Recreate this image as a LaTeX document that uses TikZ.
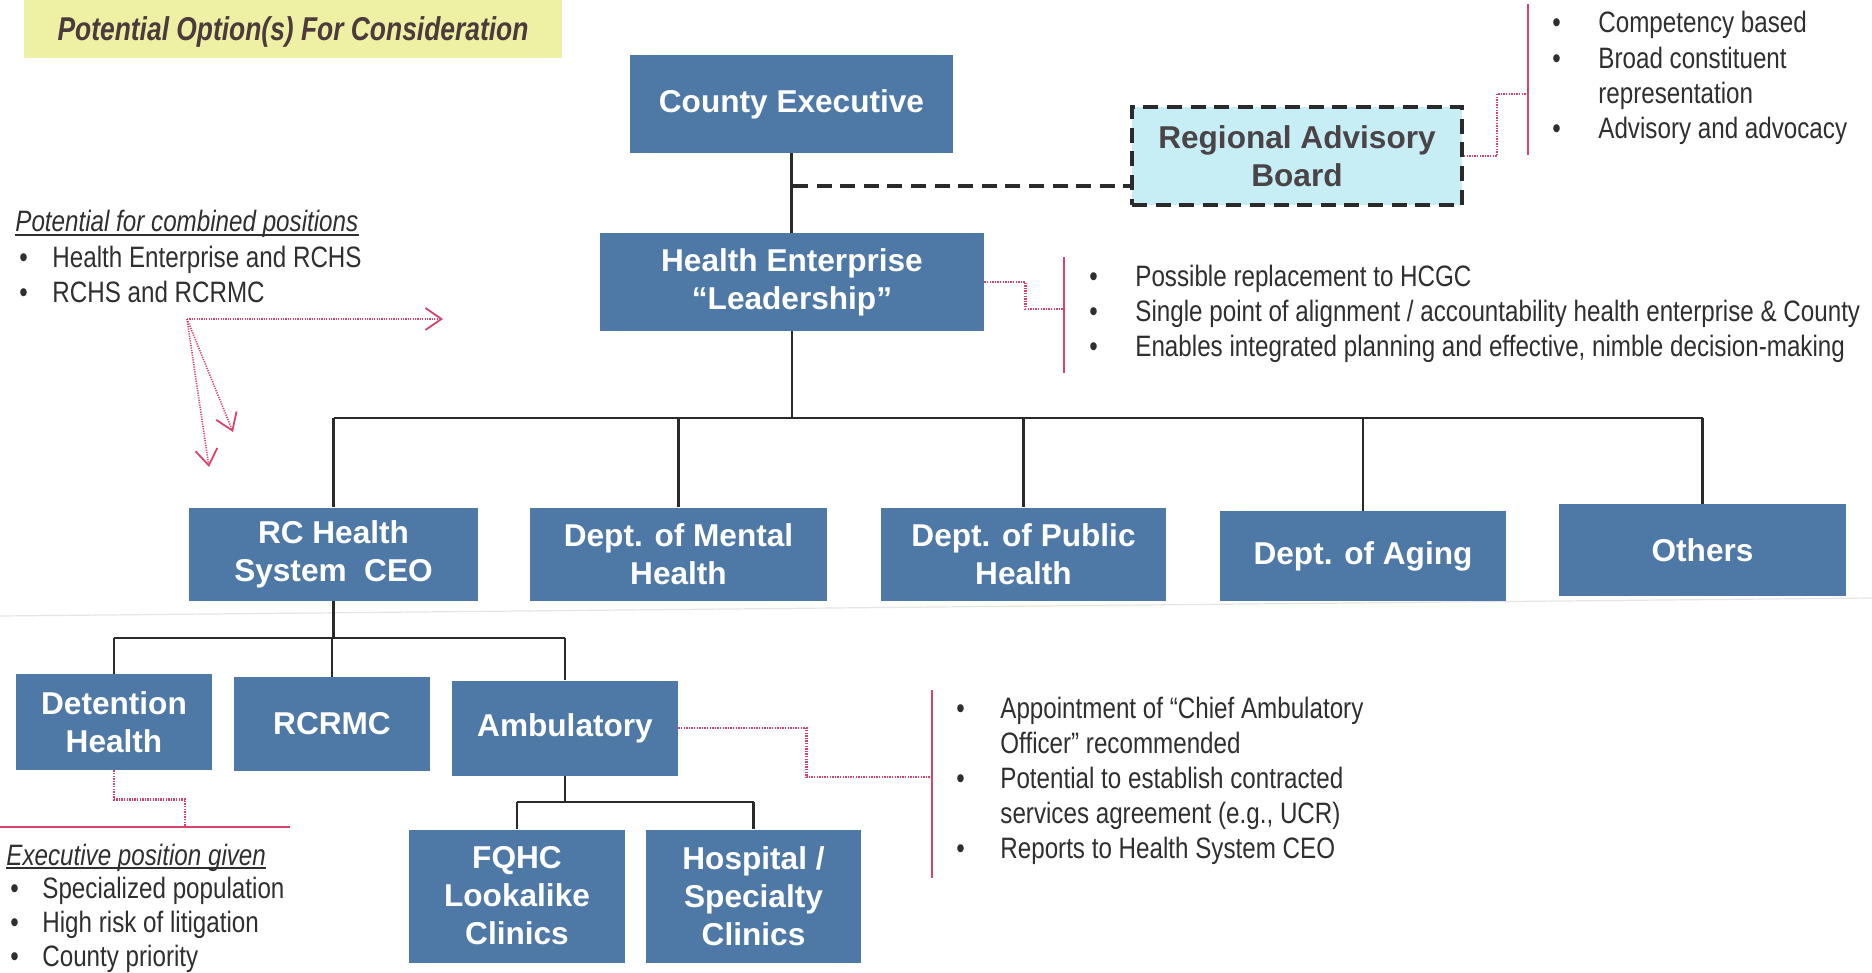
\documentclass[tikz,border=0pt]{standalone}
\usepackage{fontspec}
\setmainfont{Liberation Sans}
\newfontfamily\narrowfont[FakeStretch=0.82]{Liberation Sans}
\newfontfamily\bannerfont[FakeStretch=0.8]{Liberation Sans}
\usetikzlibrary{arrows.meta}

\definecolor{boxblue}{HTML}{4E79A6}
\definecolor{notered}{HTML}{D8436C}
\definecolor{notetext}{HTML}{2F2F2F}
\definecolor{bannerfill}{HTML}{EEF1A4}
\definecolor{bannertext}{HTML}{4B3B3D}
\definecolor{advisoryfill}{HTML}{C6EEF4}
\definecolor{advisorytext}{HTML}{4A4446}
\definecolor{linegray}{HTML}{2A2A2A}

\tikzset{
  orgbox/.style={rectangle, fill=boxblue, text=white, align=center, inner sep=0pt,
    font=\bfseries\fontsize{15.8}{19}\selectfont},
  orgline/.style={draw=linegray, line width=1.35pt},
  advline/.style={draw=linegray, line width=2pt, dash pattern=on 7.5pt off 4.3pt},
  notelink/.style={draw=notered, line width=1.2pt, dash pattern=on 0.7pt off 0.6pt},
  notebar/.style={draw=notered, line width=1pt},
  notearrow/.style={draw=notered, line width=0.8pt, dash pattern=on 0.6pt off 0.6pt,
    -{Straight Barb[length=8pt,width=11pt,line width=0.9pt]}},
  notes/.style={inner sep=0pt, text=notetext, anchor=base west,
    font=\narrowfont\fontsize{14.75}{17.6}\selectfont},
  underbar/.style={draw=notetext, line width=0.9pt},
}

\begin{document}
\begin{tikzpicture}[x=0.5pt,y=-0.5pt]
\useasboundingbox (0,0) rectangle (1872,973);
\fill[white] (0,0) rectangle (1872,973);

% faint crease across the sheet
\draw[black!10, line width=0.6pt] (0,616) -- (1872,598);

% title banner
\fill[bannerfill] (24,0) rectangle (562,58);
\node[inner sep=0pt, text=bannertext,
      font=\bannerfont\bfseries\itshape\fontsize{16.5}{20}\selectfont]
      (banner) at (293,32) {Potential Option(s) For Consideration};

% top of the chart
\node[orgbox, minimum width=161.5pt, minimum height=49pt] (ce) at (791.5,104) {County Executive};
\node[orgbox, minimum width=192pt, minimum height=48.5pt] (he) at (792,282) {Health Enterprise\\“Leadership”};
\node[rectangle, fill=advisoryfill, draw=linegray, line width=2pt, dash pattern=on 7.5pt off 4.3pt,
      minimum width=165pt, minimum height=49pt, inner sep=0pt, align=center, text=advisorytext,
      font=\bfseries\fontsize{15.8}{19}\selectfont]
      (rab) at (1297,156) {Regional Advisory\\Board};

% second level
\node[orgbox, minimum width=144.5pt, minimum height=46.5pt] (rc) at (333.5,554) {RC Health\\System~~CEO};
\node[orgbox, minimum width=148.5pt, minimum height=46.5pt] (mh) at (678.5,554) {Dept. of Mental\\Health};
\node[orgbox, minimum width=142.5pt, minimum height=46.5pt] (ph) at (1023.5,554) {Dept. of Public\\Health};
\node[orgbox, minimum width=143pt, minimum height=45pt] (ag) at (1363,556) {Dept. of Aging};
\node[orgbox, minimum width=143.5pt, minimum height=46pt] (ot) at (1702.5,550) {Others};

% health system level
\node[orgbox, minimum width=98pt, minimum height=48pt] (dh) at (114,722) {Detention\\Health};
\node[orgbox, minimum width=98pt, minimum height=47pt] (rm) at (332,724) {RCRMC};
\node[orgbox, minimum width=113pt, minimum height=47.5pt] (am) at (565,728) {Ambulatory};

% ambulatory level
\node[orgbox, minimum width=108pt, minimum height=66.5pt] (fq) at (517,896) {FQHC\\Lookalike\\Clinics};
\node[orgbox, minimum width=107.5pt, minimum height=66.5pt] (hs) at (753.5,896) {Hospital /\\Specialty\\Clinics};

% reporting lines
\draw[orgline] (ce.south) -- (ce.south |- he.north);
\coordinate (advjoin) at (793,186);
\draw[advline] (advjoin) -- (advjoin -| rab.west);

\coordinate (bustop) at (792,418);
\draw[orgline] (he.south) -- (bustop);
\draw[orgline] (rc.north |- bustop) -- (ot.north |- bustop);
\foreach \n in {rc,mh,ph,ag,ot} \draw[orgline] (\n.north |- bustop) -- (\n.north);

\coordinate (busrc) at (333.5,638);
\draw[orgline] (rc.south) -- (busrc);
\draw[orgline] (dh.north |- busrc) -- (am.north |- busrc);
\foreach \n in {dh,rm,am} \draw[orgline] (\n.north |- busrc) -- (\n.north);

\coordinate (busam) at (565,802);
\draw[orgline] (am.south) -- (busam);
\draw[orgline] (fq.north |- busam) -- (hs.north |- busam);
\foreach \n in {fq,hs} \draw[orgline] (\n.north |- busam) -- (\n.north);

% note brackets and their links
\coordinate (rabbartop) at (1528,4);
\coordinate (rabbarbot) at (1528,155);
\coordinate (rabbar) at (1528,94);
\draw[notebar] (rabbartop) -- (rabbarbot);
\draw[notelink] (rab.east) -- ++(33,0) |- (rabbar);

\coordinate (hebartop) at (1064,257);
\coordinate (hebarbot) at (1064,373);
\coordinate (hebar) at (1064,309);
\draw[notebar] (hebartop) -- (hebarbot);
\draw[notelink] (he.east) -- ++(41,0) |- (hebar);

\coordinate (ambartop) at (932,690);
\coordinate (ambarbot) at (932,878);
\coordinate (ambar) at (932,777);
\draw[notebar] (ambartop) -- (ambarbot);
\draw[notelink] (am.east) -- ++(128,0) |- (ambar);

\coordinate (dhrulel) at (0,827);
\coordinate (dhruler) at (290,827);
\coordinate (dhline) at (185,827);
\draw[notered, line width=1.3pt] (dhrulel) -- (dhruler);
\draw[notelink] (dh.south) -- ++(0,29) -| (dhline);

% hand-drawn pointers
\coordinate (arrsrc) at (187,319);
\coordinate (arrright) at (443,319);
\coordinate (arrdowna) at (209,467);
\coordinate (arrdownb) at (233,432);
\draw[notearrow] (arrsrc) -- (arrright);
\draw[notearrow] (arrsrc) -- (arrdowna);
\draw[notearrow] (arrsrc) -- (arrdownb);

% note texts
\node[notes] (rabnotes) at (1552,33) {\begin{tabular}[t]{@{}p{23pt}@{}l@{}}
\textbullet & Competency based\\
\textbullet & Broad constituent\\
 & representation\\
\textbullet & Advisory and advocacy
\end{tabular}};

\node[notes] (henotes) at (1089,286) {\begin{tabular}[t]{@{}p{23pt}@{}l@{}}
\textbullet & Possible replacement to HCGC\\
\textbullet & Single point of alignment / accountability health enterprise \& County\\
\textbullet & Enables integrated planning and effective, nimble decision-making
\end{tabular}};

\node[notes] (amnotes) at (956,718) {\begin{tabular}[t]{@{}p{22pt}@{}l@{}}
\textbullet & Appointment of “Chief Ambulatory\\
 & Officer” recommended\\
\textbullet & Potential to establish contracted\\
 & services agreement (e.g., UCR)\\
\textbullet & Reports to Health System CEO
\end{tabular}};

\node[notes, font=\narrowfont\itshape\fontsize{14.75}{17.6}\selectfont] (combhead) at (15,232) {Potential for combined positions};
\draw[underbar] ([yshift=-1.6pt]combhead.base west) -- ([yshift=-1.6pt]combhead.base east);
\node[notes] (combnotes) at (19,267) {\begin{tabular}[t]{@{}p{16.5pt}@{}l@{}}
\textbullet & Health Enterprise and RCHS\\
\textbullet & RCHS and RCRMC
\end{tabular}};

\node[notes, font=\narrowfont\itshape\fontsize{14.75}{17.6}\selectfont] (exechead) at (6,865) {Executive position given};
\draw[underbar] ([yshift=-1.6pt]exechead.base west) -- ([yshift=-1.6pt]exechead.base east);
\node[notes, font=\narrowfont\fontsize{14.75}{17.2}\selectfont] (execnotes) at (10,898) {\begin{tabular}[t]{@{}p{16pt}@{}l@{}}
\textbullet & Specialized population\\
\textbullet & High risk of litigation\\
\textbullet & County priority
\end{tabular}};
\end{tikzpicture}
\end{document}
